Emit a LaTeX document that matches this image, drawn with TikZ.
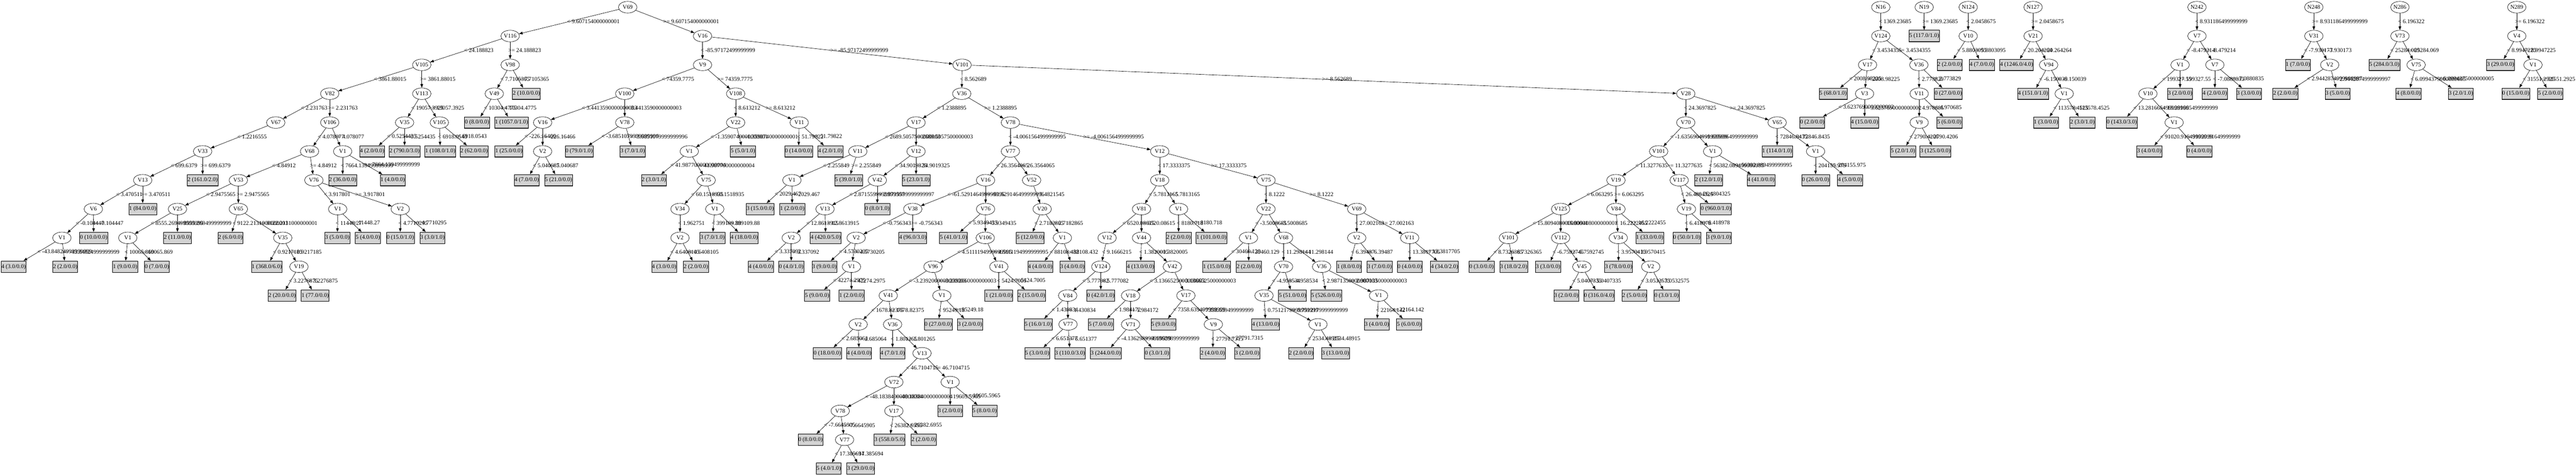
\documentclass[tikz,border=0pt]{standalone}
\usepackage{fontspec}
\setmainfont{Liberation Serif}
\usetikzlibrary{shapes.geometric, arrows.meta}
\definecolor{leafgray}{HTML}{D3D3D3}
\begin{document}
\begin{tikzpicture}[x=1pt, y=-87.2pt, font=\fontsize{17.5}{21}\selectfont,
  var/.style={draw, ellipse, line width=1pt, inner sep=0pt, minimum width=56pt, minimum height=35pt},
  leaf/.style={draw, rectangle, line width=1pt, fill=leafgray, inner xsep=1pt, inner ysep=0pt, minimum height=35pt,
    path picture={\draw[line width=3pt, black!70] (path picture bounding box.south west) -- (path picture bounding box.south east);}},
  edge/.style={line width=1pt, -{Triangle[length=11pt, width=8pt]}},
  lbl/.style={anchor=west, inner sep=0pt, xshift=-6pt}]
\useasboundingbox (0,-0.25) rectangle (7781,16.218);
\node[var] (v69) at (1896,0) {V69};
\node[var] (v116) at (1541,1) {V116};
\node[var] (v16) at (2122,1) {V16};
\node[var] (v105) at (1274,2) {V105};
\node[var] (v98) at (1541,2) {V98};
\node[var] (v9) at (2122,2) {V9};
\node[var] (v101) at (2906,2) {V101};
\node[var] (v82) at (996,3) {V82};
\node[var] (v113) at (1274,3) {V113};
\node[var] (v49) at (1493,3) {V49};
\node[var] (v100) at (1887,3) {V100};
\node[var] (v108) at (2222,3) {V108};
\node[var] (v36) at (2905,3) {V36};
\node[var] (v28) at (5092,3) {V28};
\node[var] (v67) at (833,4) {V67};
\node[var] (v106) at (996,4) {V106};
\node[var] (v35) at (1222,4) {V35};
\node[var] (v105b) at (1327,4) {V105};
\node[var] (v16b) at (1639,4) {V16};
\node[var] (v78) at (1887,4) {V78};
\node[var] (v22) at (2222,4) {V22};
\node[var] (v11) at (2414,4) {V11};
\node[var] (v17) at (2767,4) {V17};
\node[var] (v78b) at (3052,4) {V78};
\node[var] (v70) at (5092,4) {V70};
\node[var] (v65) at (5368,4) {V65};
\node[var] (v33) at (612,5) {V33};
\node[var] (v68) at (935,5) {V68};
\node[var] (v1b) at (1035,5) {V1};
\node[var] (v2b) at (1639,5) {V2};
\node[var] (v1e) at (2082,5) {V1};
\node[var] (v11b) at (2591,5) {V11};
\node[var] (v12) at (2767,5) {V12};
\node[var] (v77) at (3052,5) {V77};
\node[var] (v12b) at (3503,5) {V12};
\node[var] (v101b) at (5010,5) {V101};
\node[var] (v1p) at (5173,5) {V1};
\node[var] (v1q) at (5484,5) {V1};
\node[var] (v13) at (431,6) {V13};
\node[var] (v53) at (720,6) {V53};
\node[var] (v76) at (948,6) {V76};
\node[var] (v75) at (2133,6) {V75};
\node[var] (v1g) at (2392,6) {V1};
\node[var] (v42) at (2650,6) {V42};
\node[var] (v16c) at (2977,6) {V16};
\node[var] (v52) at (3116,6) {V52};
\node[var] (v18) at (3503,6) {V18};
\node[var] (v75b) at (3824,6) {V75};
\node[var] (v19b) at (4881,6) {V19};
\node[var] (v117) at (5072,6) {V117};
\node[var] (v6) at (282,7) {V6};
\node[var] (v25) at (536,7) {V25};
\node[var] (v65a) at (720,7) {V65};
\node[var] (v1d) at (1020,7) {V1};
\node[var] (v2a) at (1209,7) {V2};
\node[var] (v34) at (2054,7) {V34};
\node[var] (v1f) at (2159,7) {V1};
\node[var] (v13b) at (2492,7) {V13};
\node[var] (v38) at (2757,7) {V38};
\node[var] (v76b) at (2977,7) {V76};
\node[var] (v20) at (3148,7) {V20};
\node[var] (v81) at (3448,7) {V81};
\node[var] (v1l) at (3560,7) {V1};
\node[var] (v22b) at (3824,7) {V22};
\node[var] (v69b) at (4098,7) {V69};
\node[var] (v125) at (4714,7) {V125};
\node[var] (v84b) at (4881,7) {V84};
\node[var] (v19c) at (5094,7) {V19};
\node[var] (v1a) at (187,8) {V1};
\node[var] (v1c) at (386,8) {V1};
\node[var] (v35a) at (854,8) {V35};
\node[var] (v2c) at (2054,8) {V2};
\node[var] (v2d) at (2390,8) {V2};
\node[var] (v2e) at (2586,8) {V2};
\node[var] (v106b) at (2976,8) {V106};
\node[var] (v1k) at (3209,8) {V1};
\node[var] (v12c) at (3344,8) {V12};
\node[var] (v44) at (3448,8) {V44};
\node[var] (v1m) at (3771,8) {V1};
\node[var] (v68b) at (3877,8) {V68};
\node[var] (v2g) at (4098,8) {V2};
\node[var] (v11c) at (4258,8) {V11};
\node[var] (v101c) at (4556,8) {V101};
\node[var] (v112) at (4714,8) {V112};
\node[var] (v34b) at (4888,8) {V34};
\node[var] (v19a) at (903,9) {V19};
\node[var] (v1h) at (2572,9) {V1};
\node[var] (v96) at (2818,9) {V96};
\node[var] (v41a) at (3017,9) {V41};
\node[var] (v124a) at (3325,9) {V124};
\node[var] (v42b) at (3541,9) {V42};
\node[var] (v70a) at (3877,9) {V70};
\node[var] (v36c) at (3992,9) {V36};
\node[var] (v45) at (4778,9) {V45};
\node[var] (v2h) at (4986,9) {V2};
\node[var] (v41b) at (2683,10) {V41};
\node[var] (v1i) at (2845,10) {V1};
\node[var] (v84a) at (3225,10) {V84};
\node[var] (v18b) at (3415,10) {V18};
\node[var] (v17c) at (3582,10) {V17};
\node[var] (v35c) at (3818,10) {V35};
\node[var] (v1o) at (4164,10) {V1};
\node[var] (v2f) at (2592,11) {V2};
\node[var] (v36b) at (2696,11) {V36};
\node[var] (v77c) at (3226,11) {V77};
\node[var] (v71) at (3415,11) {V71};
\node[var] (v9b) at (3665,11) {V9};
\node[var] (v1n) at (3981,11) {V1};
\node[var] (v13c) at (2785,12) {V13};
\node[var] (v72) at (2700,13) {V72};
\node[var] (v1j) at (2870,13) {V1};
\node[var] (v78c) at (2538,14) {V78};
\node[var] (v17b) at (2700,14) {V17};
\node[var] (v77b) at (2551,15) {V77};
\node[var] (n16) at (5681,0) {N16};
\node[var] (n19) at (5812,0) {N19};
\node[var] (n124) at (5945,0) {N124};
\node[var] (n127) at (6141,0) {N127};
\node[var] (n242) at (6636,0) {N242};
\node[var] (n248) at (6989,0) {N248};
\node[var] (n286) at (7249,0) {N286};
\node[var] (n289) at (7602,0) {N289};
\node[var] (v124s) at (5681,1) {V124};
\node[var] (v10s) at (5945,1) {V10};
\node[var] (v21s) at (6141,1) {V21};
\node[var] (v7s) at (6636,1) {V7};
\node[var] (v31s) at (6989,1) {V31};
\node[var] (v73s) at (7249,1) {V73};
\node[var] (v4s) at (7602,1) {V4};
\node[var] (v17s) at (5641,2) {V17};
\node[var] (v36s) at (5796,2) {V36};
\node[var] (v94s) at (6188,2) {V94};
\node[var] (v1s) at (6585,2) {V1};
\node[var] (v7t) at (6690,2) {V7};
\node[var] (v2s) at (7037,2) {V2};
\node[var] (v75s) at (7298,2) {V75};
\node[var] (v1t) at (7651,2) {V1};
\node[var] (v3s) at (5632,3) {V3};
\node[var] (v11s) at (5797,3) {V11};
\node[var] (v1u) at (6235,3) {V1};
\node[var] (v10t) at (6488,3) {V10};
\node[var] (v9s) at (5797,4) {V9};
\node[var] (v1v) at (6567,4) {V1};
\node[leaf] (c1) at (612,6) {2 (161.0/2.0)};
\node[leaf] (c2) at (431,7) {1 (84.0/0.0)};
\node[leaf] (c3) at (283,8) {0 (10.0/0.0)};
\node[leaf] (c4) at (41,9) {4 (3.0/0.0)};
\node[leaf] (c5) at (197,9) {2 (2.0/0.0)};
\node[leaf] (c6) at (536,8) {2 (11.0/0.0)};
\node[leaf] (c7) at (378,9) {1 (9.0/0.0)};
\node[leaf] (c8) at (474,9) {0 (7.0/0.0)};
\node[leaf] (c9) at (696,8) {2 (6.0/0.0)};
\node[leaf] (c10) at (806,9) {1 (368.0/6.0)};
\node[leaf] (c11) at (852,10) {2 (20.0/0.0)};
\node[leaf] (c12) at (952,10) {1 (77.0/0.0)};
\node[leaf] (c13) at (1019,8) {3 (5.0/0.0)};
\node[leaf] (c14) at (1111,8) {5 (4.0/0.0)};
\node[leaf] (c15) at (1209,8) {0 (15.0/1.0)};
\node[leaf] (c16) at (1306,8) {3 (3.0/1.0)};
\node[leaf] (c17) at (1035,6) {2 (36.0/0.0)};
\node[leaf] (c18) at (1186,6) {1 (4.0/0.0)};
\node[leaf] (c19) at (1124,5) {4 (2.0/0.0)};
\node[leaf] (c20) at (1222,5) {2 (790.0/3.0)};
\node[leaf] (c21) at (1330,5) {1 (108.0/1.0)};
\node[leaf] (c22) at (1432,5) {2 (62.0/0.0)};
\node[leaf] (c23) at (1590,3) {2 (10.0/0.0)};
\node[leaf] (c24) at (1441,4) {0 (8.0/0.0)};
\node[leaf] (c25) at (1545,4) {1 (1057.0/1.0)};
\node[leaf] (c26) at (1537,5) {1 (25.0/0.0)};
\node[leaf] (c27) at (1591,6) {4 (7.0/0.0)};
\node[leaf] (c28) at (1687,6) {5 (21.0/0.0)};
\node[leaf] (c29) at (1749,5) {0 (79.0/1.0)};
\node[leaf] (c30) at (1911,5) {3 (7.0/1.0)};
\node[leaf] (c31) at (2244,5) {5 (5.0/1.0)};
\node[leaf] (c32) at (1975,6) {2 (3.0/1.0)};
\node[leaf] (c33) at (2006,9) {4 (3.0/0.0)};
\node[leaf] (c34) at (2102,9) {2 (2.0/0.0)};
\node[leaf] (c35) at (2152,8) {3 (7.0/1.0)};
\node[leaf] (c36) at (2248,8) {4 (18.0/0.0)};
\node[leaf] (c37) at (2412,5) {0 (14.0/0.0)};
\node[leaf] (c38) at (2508,5) {4 (2.0/1.0)};
\node[leaf] (c39) at (2563,6) {5 (39.0/1.0)};
\node[leaf] (c40) at (2296,7) {3 (15.0/0.0)};
\node[leaf] (c41) at (2393,7) {1 (2.0/0.0)};
\node[leaf] (c42) at (2767,6) {5 (23.0/1.0)};
\node[leaf] (c43) at (2650,7) {0 (8.0/1.0)};
\node[leaf] (c44) at (2494,8) {4 (420.0/5.0)};
\node[leaf] (c45) at (2298,9) {4 (4.0/0.0)};
\node[leaf] (c46) at (2390,9) {0 (4.0/1.0)};
\node[leaf] (c47) at (2757,8) {4 (96.0/3.0)};
\node[leaf] (c48) at (2490,9) {3 (9.0/0.0)};
\node[leaf] (c49) at (2468,10) {5 (9.0/0.0)};
\node[leaf] (c50) at (2572,10) {1 (2.0/0.0)};
\node[leaf] (c51) at (2880,8) {5 (41.0/1.0)};
\node[leaf] (c52) at (2499,12) {0 (18.0/0.0)};
\node[leaf] (c53) at (2595,12) {4 (4.0/0.0)};
\node[leaf] (c54) at (2696,12) {4 (7.0/1.0)};
\node[leaf] (c55) at (2448,15) {0 (8.0/0.0)};
\node[leaf] (c56) at (2503,16) {5 (4.0/1.0)};
\node[leaf] (c57) at (2600,16) {3 (29.0/0.0)};
\node[leaf] (c58) at (2687,15) {3 (558.0/5.0)};
\node[leaf] (c59) at (2790,15) {2 (2.0/0.0)};
\node[leaf] (c60) at (2870,14) {3 (2.0/0.0)};
\node[leaf] (c61) at (2974,14) {5 (8.0/0.0)};
\node[leaf] (c62) at (2834,11) {0 (27.0/0.0)};
\node[leaf] (c63) at (2930,11) {3 (2.0/0.0)};
\node[leaf] (c64) at (3017,10) {1 (21.0/0.0)};
\node[leaf] (c65) at (3116,10) {2 (15.0/0.0)};
\node[leaf] (c66) at (3112,8) {5 (12.0/0.0)};
\node[leaf] (c67) at (3142,9) {4 (4.0/0.0)};
\node[leaf] (c68) at (3239,9) {3 (4.0/0.0)};
\node[leaf] (c69) at (3325,10) {0 (42.0/1.0)};
\node[leaf] (c70) at (3136,11) {5 (16.0/1.0)};
\node[leaf] (c71) at (3133,12) {5 (3.0/0.0)};
\node[leaf] (c72) at (3232,12) {3 (110.0/3.0)};
\node[leaf] (c73) at (3445,9) {4 (13.0/0.0)};
\node[leaf] (c74) at (3325,11) {5 (7.0/0.0)};
\node[leaf] (c75) at (3340,12) {3 (244.0/0.0)};
\node[leaf] (c76) at (3495,12) {0 (3.0/1.0)};
\node[leaf] (c77) at (3514,11) {5 (9.0/0.0)};
\node[leaf] (c78) at (3663,12) {2 (4.0/0.0)};
\node[leaf] (c79) at (3767,12) {3 (2.0/0.0)};
\node[leaf] (c80) at (3560,8) {2 (2.0/0.0)};
\node[leaf] (c81) at (3659,8) {1 (101.0/0.0)};
\node[leaf] (c82) at (3675,9) {1 (15.0/0.0)};
\node[leaf] (c83) at (3772,9) {2 (2.0/0.0)};
\node[leaf] (c84) at (3904,10) {5 (51.0/0.0)};
\node[leaf] (c85) at (3823,11) {4 (13.0/0.0)};
\node[leaf] (c86) at (3930,12) {2 (2.0/0.0)};
\node[leaf] (c87) at (4034,12) {3 (13.0/0.0)};
\node[leaf] (c88) at (4006,10) {5 (526.0/0.0)};
\node[leaf] (c89) at (4159,11) {3 (4.0/0.0)};
\node[leaf] (c90) at (4256,11) {5 (6.0/0.0)};
\node[leaf] (c91) at (4075,9) {1 (8.0/0.0)};
\node[leaf] (c92) at (4167,9) {3 (7.0/0.0)};
\node[leaf] (c93) at (4258,9) {0 (4.0/0.0)};
\node[leaf] (c94) at (4363,9) {4 (34.0/2.0)};
\node[leaf] (c95) at (4475,9) {0 (3.0/0.0)};
\node[leaf] (c96) at (4572,9) {3 (18.0/2.0)};
\node[leaf] (c97) at (4676,9) {3 (3.0/0.0)};
\node[leaf] (c98) at (4731,10) {3 (2.0/0.0)};
\node[leaf] (c99) at (4830,10) {0 (316.0/4.0)};
\node[leaf] (c100) at (4983,8) {1 (33.0/0.0)};
\node[leaf] (c101) at (4889,9) {3 (78.0/0.0)};
\node[leaf] (c102) at (4937,10) {2 (5.0/0.0)};
\node[leaf] (c103) at (5034,10) {0 (3.0/1.0)};
\node[leaf] (c104) at (5183,7) {0 (960.0/1.0)};
\node[leaf] (c105) at (5095,8) {0 (50.0/1.0)};
\node[leaf] (c106) at (5192,8) {3 (9.0/1.0)};
\node[leaf] (c107) at (5161,6) {2 (12.0/1.0)};
\node[leaf] (c108) at (5319,6) {4 (41.0/0.0)};
\node[leaf] (c109) at (5368,5) {1 (114.0/1.0)};
\node[leaf] (c110) at (5484,6) {0 (26.0/0.0)};
\node[leaf] (c111) at (5588,6) {4 (5.0/0.0)};
\node[leaf] (c112) at (5812,1) {5 (117.0/1.0)};
\node[leaf] (c113) at (5537,3) {5 (68.0/1.0)};
\node[leaf] (c114) at (5474,4) {0 (2.0/0.0)};
\node[leaf] (c115) at (5632,4) {4 (15.0/0.0)};
\node[leaf] (c116) at (5885,3) {0 (27.0/0.0)};
\node[leaf] (c117) at (5888,4) {5 (6.0/0.0)};
\node[leaf] (c118) at (5748,5) {5 (2.0/1.0)};
\node[leaf] (c119) at (5846,5) {3 (125.0/0.0)};
\node[leaf] (c120) at (5889,2) {2 (2.0/0.0)};
\node[leaf] (c121) at (5986,2) {4 (7.0/0.0)};
\node[leaf] (c122) at (6091,2) {4 (1246.0/4.0)};
\node[leaf] (c123) at (6141,3) {4 (151.0/1.0)};
\node[leaf] (c124) at (6180,4) {1 (3.0/0.0)};
\node[leaf] (c125) at (6290,4) {2 (3.0/1.0)};
\node[leaf] (c126) at (6585,3) {3 (2.0/0.0)};
\node[leaf] (c127) at (6409,4) {0 (143.0/3.0)};
\node[leaf] (c128) at (6492,5) {3 (4.0/0.0)};
\node[leaf] (c129) at (6643,5) {0 (4.0/0.0)};
\node[leaf] (c130) at (6690,3) {4 (2.0/0.0)};
\node[leaf] (c131) at (6793,3) {3 (3.0/0.0)};
\node[leaf] (c132) at (6941,2) {1 (7.0/0.0)};
\node[leaf] (c133) at (6903,3) {2 (2.0/0.0)};
\node[leaf] (c134) at (7061,3) {3 (5.0/0.0)};
\node[leaf] (c135) at (7202,2) {5 (284.0/3.0)};
\node[leaf] (c136) at (7275,3) {4 (8.0/0.0)};
\node[leaf] (c137) at (7433,3) {3 (2.0/1.0)};
\node[leaf] (c138) at (7553,2) {3 (29.0/0.0)};
\node[leaf] (c139) at (7599,3) {0 (15.0/0.0)};
\node[leaf] (c140) at (7703,3) {5 (2.0/0.0)};
\draw[edge] (v69) -- node[lbl]{< 9.607154000000001} (v116);
\draw[edge] (v69) -- node[lbl]{>= 9.607154000000001} (v16);
\draw[edge] (v116) -- node[lbl]{< 24.188823} (v105);
\draw[edge] (v116) -- node[lbl]{>= 24.188823} (v98);
\draw[edge] (v105) -- node[lbl]{< 3861.88015} (v82);
\draw[edge] (v105) -- node[lbl]{>= 3861.88015} (v113);
\draw[edge] (v82) -- node[lbl]{< 2.231763} (v67);
\draw[edge] (v82) -- node[lbl]{>= 2.231763} (v106);
\draw[edge] (v67) -- node[lbl]{< 1.2216555} (v33);
\draw[edge] (v33) -- node[lbl]{< 699.6379} (v13);
\draw[edge] (v33) -- node[lbl]{>= 699.6379} (c1);
\draw[edge] (v13) -- node[lbl]{< 3.470511} (v6);
\draw[edge] (v13) -- node[lbl]{>= 3.470511} (c2);
\draw[edge] (v6) -- node[lbl]{< -0.104447} (v1a);
\draw[edge] (v6) -- node[lbl]{>= -0.104447} (c3);
\draw[edge] (v1a) -- node[lbl]{< -43.84824999999999} (c4);
\draw[edge] (v1a) -- node[lbl]{>= -43.84824999999999} (c5);
\draw[edge] (v106) -- node[lbl]{< 4.078077} (v68);
\draw[edge] (v106) -- node[lbl]{>= 4.078077} (v1b);
\draw[edge] (v68) -- node[lbl]{< 4.84912} (v53);
\draw[edge] (v68) -- node[lbl]{>= 4.84912} (v76);
\draw[edge] (v53) -- node[lbl]{< 2.9475565} (v25);
\draw[edge] (v53) -- node[lbl]{>= 2.9475565} (v65a);
\draw[edge] (v25) -- node[lbl]{< 8555.269499999999} (v1c);
\draw[edge] (v25) -- node[lbl]{>= 8555.269499999999} (c6);
\draw[edge] (v1c) -- node[lbl]{< 10065.869} (c7);
\draw[edge] (v1c) -- node[lbl]{>= 10065.869} (c8);
\draw[edge] (v65a) -- node[lbl]{< 9122.2131000000001} (c9);
\draw[edge] (v65a) -- node[lbl]{>= 9122.2131000000001} (v35a);
\draw[edge] (v35a) -- node[lbl]{< 0.9217185} (c10);
\draw[edge] (v35a) -- node[lbl]{>= 0.9217185} (v19a);
\draw[edge] (v19a) -- node[lbl]{< 3.2276875} (c11);
\draw[edge] (v19a) -- node[lbl]{>= 3.2276875} (c12);
\draw[edge] (v76) -- node[lbl]{< 3.917801} (v1d);
\draw[edge] (v76) -- node[lbl]{>= 3.917801} (v2a);
\draw[edge] (v1d) -- node[lbl]{< 11448.27} (c13);
\draw[edge] (v1d) -- node[lbl]{>= 11448.27} (c14);
\draw[edge] (v2a) -- node[lbl]{< 4.7710295} (c15);
\draw[edge] (v2a) -- node[lbl]{>= 4.7710295} (c16);
\draw[edge] (v1b) -- node[lbl]{< 7664.139499999999} (c17);
\draw[edge] (v1b) -- node[lbl]{>= 7664.139499999999} (c18);
\draw[edge] (v113) -- node[lbl]{< 19057.3925} (v35);
\draw[edge] (v113) -- node[lbl]{>= 19057.3925} (v105b);
\draw[edge] (v35) -- node[lbl]{< 0.5254435} (c19);
\draw[edge] (v35) -- node[lbl]{>= 0.5254435} (c20);
\draw[edge] (v105b) -- node[lbl]{< 6918.0543} (c21);
\draw[edge] (v105b) -- node[lbl]{>= 6918.0543} (c22);
\draw[edge] (v98) -- node[lbl]{< 7.7105365} (v49);
\draw[edge] (v98) -- node[lbl]{>= 7.7105365} (c23);
\draw[edge] (v49) -- node[lbl]{< 10304.4775} (c24);
\draw[edge] (v49) -- node[lbl]{>= 10304.4775} (c25);
\draw[edge] (v16) -- node[lbl]{< -85.97172499999999} (v9);
\draw[edge] (v16) -- node[lbl]{>= -85.97172499999999} (v101);
\draw[edge] (v9) -- node[lbl]{< 74359.7775} (v100);
\draw[edge] (v9) -- node[lbl]{>= 74359.7775} (v108);
\draw[edge] (v100) -- node[lbl]{< 3.4413590000000003} (v16b);
\draw[edge] (v100) -- node[lbl]{>= 3.4413590000000003} (v78);
\draw[edge] (v16b) -- node[lbl]{< -226.16466} (c26);
\draw[edge] (v16b) -- node[lbl]{>= -226.16466} (v2b);
\draw[edge] (v2b) -- node[lbl]{< 5.040687} (c27);
\draw[edge] (v2b) -- node[lbl]{>= 5.040687} (c28);
\draw[edge] (v78) -- node[lbl]{< -3.6851079999999996} (c29);
\draw[edge] (v78) -- node[lbl]{>= -3.6851079999999996} (c30);
\draw[edge] (v108) -- node[lbl]{< 8.613212} (v22);
\draw[edge] (v108) -- node[lbl]{>= 8.613212} (v11);
\draw[edge] (v22) -- node[lbl]{< -1.3590740000000001} (v1e);
\draw[edge] (v22) -- node[lbl]{>= -1.3590740000000001} (c31);
\draw[edge] (v1e) -- node[lbl]{< 41.987700000000004} (c32);
\draw[edge] (v1e) -- node[lbl]{>= 41.987700000000004} (v75);
\draw[edge] (v75) -- node[lbl]{< 60.1518935} (v34);
\draw[edge] (v75) -- node[lbl]{>= 60.1518935} (v1f);
\draw[edge] (v34) -- node[lbl]{< 1.962751} (v2c);
\draw[edge] (v2c) -- node[lbl]{< 4.6408105} (c33);
\draw[edge] (v2c) -- node[lbl]{>= 4.6408105} (c34);
\draw[edge] (v1f) -- node[lbl]{< 399109.88} (c35);
\draw[edge] (v1f) -- node[lbl]{>= 399109.88} (c36);
\draw[edge] (v11) -- node[lbl]{< 51.79822} (c37);
\draw[edge] (v11) -- node[lbl]{>= 51.79822} (c38);
\draw[edge] (v101) -- node[lbl]{< 8.562689} (v36);
\draw[edge] (v101) -- node[lbl]{>= 8.562689} (v28);
\draw[edge] (v36) -- node[lbl]{< 1.2388895} (v17);
\draw[edge] (v36) -- node[lbl]{>= 1.2388895} (v78b);
\draw[edge] (v17) -- node[lbl]{< 2689.5057500000003} (v11b);
\draw[edge] (v17) -- node[lbl]{>= 2689.5057500000003} (v12);
\draw[edge] (v11b) -- node[lbl]{< 2.255849} (v1g);
\draw[edge] (v11b) -- node[lbl]{>= 2.255849} (c39);
\draw[edge] (v1g) -- node[lbl]{< 2029.467} (c40);
\draw[edge] (v1g) -- node[lbl]{>= 2029.467} (c41);
\draw[edge] (v12) -- node[lbl]{< 34.9019325} (v42);
\draw[edge] (v12) -- node[lbl]{>= 34.9019325} (c42);
\draw[edge] (v42) -- node[lbl]{< 2.8715599999999997} (v13b);
\draw[edge] (v42) -- node[lbl]{>= 2.8715599999999997} (c43);
\draw[edge] (v13b) -- node[lbl]{< 12.8613915} (v2d);
\draw[edge] (v13b) -- node[lbl]{>= 12.8613915} (c44);
\draw[edge] (v2d) -- node[lbl]{< 3.337092} (c45);
\draw[edge] (v2d) -- node[lbl]{>= 3.337092} (c46);
\draw[edge] (v78b) -- node[lbl]{< -4.0061564999999995} (v77);
\draw[edge] (v78b) -- node[lbl]{>= -4.0061564999999995} (v12b);
\draw[edge] (v77) -- node[lbl]{< 26.3564065} (v16c);
\draw[edge] (v77) -- node[lbl]{>= 26.3564065} (v52);
\draw[edge] (v16c) -- node[lbl]{< -61.529146499999996} (v38);
\draw[edge] (v16c) -- node[lbl]{>= -61.529146499999996} (v76b);
\draw[edge] (v38) -- node[lbl]{< -0.756343} (v2e);
\draw[edge] (v38) -- node[lbl]{>= -0.756343} (c47);
\draw[edge] (v2e) -- node[lbl]{< 4.5730205} (c48);
\draw[edge] (v2e) -- node[lbl]{>= 4.5730205} (v1h);
\draw[edge] (v1h) -- node[lbl]{< 42274.2975} (c49);
\draw[edge] (v1h) -- node[lbl]{>= 42274.2975} (c50);
\draw[edge] (v76b) -- node[lbl]{< 5.9349435} (c51);
\draw[edge] (v76b) -- node[lbl]{>= 5.9349435} (v106b);
\draw[edge] (v106b) -- node[lbl]{< 4.5111194999999995} (v96);
\draw[edge] (v106b) -- node[lbl]{>= 4.5111194999999995} (v41a);
\draw[edge] (v96) -- node[lbl]{< -3.2392060000000003} (v41b);
\draw[edge] (v96) -- node[lbl]{>= -3.2392060000000003} (v1i);
\draw[edge] (v41b) -- node[lbl]{< 1678.82375} (v2f);
\draw[edge] (v41b) -- node[lbl]{>= 1678.82375} (v36b);
\draw[edge] (v2f) -- node[lbl]{< 2.685064} (c52);
\draw[edge] (v2f) -- node[lbl]{>= 2.685064} (c53);
\draw[edge] (v36b) -- node[lbl]{< 1.801265} (c54);
\draw[edge] (v36b) -- node[lbl]{>= 1.801265} (v13c);
\draw[edge] (v13c) -- node[lbl]{< 46.7104715} (v72);
\draw[edge] (v13c) -- node[lbl]{>= 46.7104715} (v1j);
\draw[edge] (v72) -- node[lbl]{< -48.183840000000004} (v78c);
\draw[edge] (v72) -- node[lbl]{>= -48.183840000000004} (v17b);
\draw[edge] (v78c) -- node[lbl]{< -7.6645905} (c55);
\draw[edge] (v78c) -- node[lbl]{>= -7.6645905} (v77b);
\draw[edge] (v77b) -- node[lbl]{< 17.385694} (c56);
\draw[edge] (v77b) -- node[lbl]{>= 17.385694} (c57);
\draw[edge] (v17b) -- node[lbl]{< 26382.6955} (c58);
\draw[edge] (v17b) -- node[lbl]{>= 26382.6955} (c59);
\draw[edge] (v1j) -- node[lbl]{< 19605.5965} (c60);
\draw[edge] (v1j) -- node[lbl]{>= 19605.5965} (c61);
\draw[edge] (v1i) -- node[lbl]{< 95249.18} (c62);
\draw[edge] (v1i) -- node[lbl]{>= 95249.18} (c63);
\draw[edge] (v41a) -- node[lbl]{< 5424.7005} (c64);
\draw[edge] (v41a) -- node[lbl]{>= 5424.7005} (c65);
\draw[edge] (v52) -- node[lbl]{< 5.4821545} (v20);
\draw[edge] (v20) -- node[lbl]{< 2.7182865} (c66);
\draw[edge] (v20) -- node[lbl]{>= 2.7182865} (v1k);
\draw[edge] (v1k) -- node[lbl]{< 88108.432} (c67);
\draw[edge] (v1k) -- node[lbl]{>= 88108.432} (c68);
\draw[edge] (v12b) -- node[lbl]{< 17.3333375} (v18);
\draw[edge] (v12b) -- node[lbl]{>= 17.3333375} (v75b);
\draw[edge] (v18) -- node[lbl]{< 5.7813165} (v81);
\draw[edge] (v18) -- node[lbl]{>= 5.7813165} (v1l);
\draw[edge] (v81) -- node[lbl]{< 6520.08615} (v12c);
\draw[edge] (v81) -- node[lbl]{>= 6520.08615} (v44);
\draw[edge] (v12c) -- node[lbl]{< 9.1666215} (v124a);
\draw[edge] (v124a) -- node[lbl]{< 5.777082} (v84a);
\draw[edge] (v124a) -- node[lbl]{>= 5.777082} (c69);
\draw[edge] (v84a) -- node[lbl]{< 1.430834} (c70);
\draw[edge] (v84a) -- node[lbl]{>= 1.430834} (v77c);
\draw[edge] (v77c) -- node[lbl]{< 6.651377} (c71);
\draw[edge] (v77c) -- node[lbl]{>= 6.651377} (c72);
\draw[edge] (v44) -- node[lbl]{< 1.3820005} (c73);
\draw[edge] (v44) -- node[lbl]{>= 1.3820005} (v42b);
\draw[edge] (v42b) -- node[lbl]{< 3.1366525000000003} (v18b);
\draw[edge] (v42b) -- node[lbl]{>= 3.1366525000000003} (v17c);
\draw[edge] (v18b) -- node[lbl]{< 1.984172} (c74);
\draw[edge] (v18b) -- node[lbl]{>= 1.984172} (v71);
\draw[edge] (v71) -- node[lbl]{< -4.136298999999999} (c75);
\draw[edge] (v71) -- node[lbl]{>= -4.136298999999999} (c76);
\draw[edge] (v17c) -- node[lbl]{< 7358.639499999999} (c77);
\draw[edge] (v17c) -- node[lbl]{>= 7358.639499999999} (v9b);
\draw[edge] (v9b) -- node[lbl]{< 27791.7315} (c78);
\draw[edge] (v9b) -- node[lbl]{>= 27791.7315} (c79);
\draw[edge] (v1l) -- node[lbl]{< 8180.718} (c80);
\draw[edge] (v1l) -- node[lbl]{>= 8180.718} (c81);
\draw[edge] (v75b) -- node[lbl]{< 8.1222} (v22b);
\draw[edge] (v75b) -- node[lbl]{>= 8.1222} (v69b);
\draw[edge] (v22b) -- node[lbl]{< -3.5008685} (v1m);
\draw[edge] (v22b) -- node[lbl]{>= -3.5008685} (v68b);
\draw[edge] (v1m) -- node[lbl]{< 30460.129} (c82);
\draw[edge] (v1m) -- node[lbl]{>= 30460.129} (c83);
\draw[edge] (v68b) -- node[lbl]{< 11.298144} (v70a);
\draw[edge] (v68b) -- node[lbl]{>= 11.298144} (v36c);
\draw[edge] (v70a) -- node[lbl]{< -4.958534} (v35c);
\draw[edge] (v70a) -- node[lbl]{>= -4.958534} (c84);
\draw[edge] (v35c) -- node[lbl]{< 0.7512179999999999} (c85);
\draw[edge] (v35c) -- node[lbl]{>= 0.7512179999999999} (v1n);
\draw[edge] (v1n) -- node[lbl]{< 2534.48915} (c86);
\draw[edge] (v1n) -- node[lbl]{>= 2534.48915} (c87);
\draw[edge] (v36c) -- node[lbl]{< 2.9871350000000003} (c88);
\draw[edge] (v36c) -- node[lbl]{>= 2.9871350000000003} (v1o);
\draw[edge] (v1o) -- node[lbl]{< 22164.142} (c89);
\draw[edge] (v1o) -- node[lbl]{>= 22164.142} (c90);
\draw[edge] (v69b) -- node[lbl]{< 27.002163} (v2g);
\draw[edge] (v69b) -- node[lbl]{>= 27.002163} (v11c);
\draw[edge] (v2g) -- node[lbl]{< 6.39487} (c91);
\draw[edge] (v2g) -- node[lbl]{>= 6.39487} (c92);
\draw[edge] (v11c) -- node[lbl]{< 13.3817705} (c93);
\draw[edge] (v11c) -- node[lbl]{>= 13.3817705} (c94);
\draw[edge] (v28) -- node[lbl]{< 24.3697825} (v70);
\draw[edge] (v28) -- node[lbl]{>= 24.3697825} (v65);
\draw[edge] (v70) -- node[lbl]{< -1.6356964999999999} (v101b);
\draw[edge] (v70) -- node[lbl]{>= -1.6356964999999999} (v1p);
\draw[edge] (v101b) -- node[lbl]{< 11.3277635} (v19b);
\draw[edge] (v101b) -- node[lbl]{>= 11.3277635} (v117);
\draw[edge] (v19b) -- node[lbl]{< 6.063295} (v125);
\draw[edge] (v19b) -- node[lbl]{>= 6.063295} (v84b);
\draw[edge] (v125) -- node[lbl]{< 15.809408000000001} (v101c);
\draw[edge] (v125) -- node[lbl]{>= 15.809408000000001} (v112);
\draw[edge] (v101c) -- node[lbl]{< 8.7326365} (c95);
\draw[edge] (v101c) -- node[lbl]{>= 8.7326365} (c96);
\draw[edge] (v112) -- node[lbl]{< -6.7592745} (c97);
\draw[edge] (v112) -- node[lbl]{>= -6.7592745} (v45);
\draw[edge] (v45) -- node[lbl]{< 5.0407335} (c98);
\draw[edge] (v45) -- node[lbl]{>= 5.0407335} (c99);
\draw[edge] (v84b) -- node[lbl]{< 16.2222455} (v34b);
\draw[edge] (v84b) -- node[lbl]{>= 16.2222455} (c100);
\draw[edge] (v34b) -- node[lbl]{< 3.9570415} (c101);
\draw[edge] (v34b) -- node[lbl]{>= 3.9570415} (v2h);
\draw[edge] (v2h) -- node[lbl]{< 3.0532575} (c102);
\draw[edge] (v2h) -- node[lbl]{>= 3.0532575} (c103);
\draw[edge] (v117) -- node[lbl]{< 26.4804325} (v19c);
\draw[edge] (v117) -- node[lbl]{>= 26.4804325} (c104);
\draw[edge] (v19c) -- node[lbl]{< 6.418978} (c105);
\draw[edge] (v19c) -- node[lbl]{>= 6.418978} (c106);
\draw[edge] (v1p) -- node[lbl]{< 56382.089499999995} (c107);
\draw[edge] (v1p) -- node[lbl]{>= 56382.089499999995} (c108);
\draw[edge] (v65) -- node[lbl]{< 72846.8435} (c109);
\draw[edge] (v65) -- node[lbl]{>= 72846.8435} (v1q);
\draw[edge] (v1q) -- node[lbl]{< 204155.975} (c110);
\draw[edge] (v1q) -- node[lbl]{>= 204155.975} (c111);
\draw[edge] (n16) -- node[lbl]{< 1369.23685} (v124s);
\draw[edge] (n19) -- node[lbl]{>= 1369.23685} (c112);
\draw[edge] (n124) -- node[lbl]{< 2.0458675} (v10s);
\draw[edge] (n127) -- node[lbl]{>= 2.0458675} (v21s);
\draw[edge] (v124s) -- node[lbl]{< 3.4534355} (v17s);
\draw[edge] (v124s) -- node[lbl]{>= 3.4534355} (v36s);
\draw[edge] (v17s) -- node[lbl]{< 2008.98225} (c113);
\draw[edge] (v17s) -- node[lbl]{>= 2008.98225} (v3s);
\draw[edge] (v3s) -- node[lbl]{< 3.6237690000000002} (c114);
\draw[edge] (v3s) -- node[lbl]{>= 3.6237690000000002} (c115);
\draw[edge] (v36s) -- node[lbl]{< 2.773829} (v11s);
\draw[edge] (v36s) -- node[lbl]{>= 2.773829} (c116);
\draw[edge] (v11s) -- node[lbl]{< 4.970685} (v9s);
\draw[edge] (v11s) -- node[lbl]{>= 4.970685} (c117);
\draw[edge] (v9s) -- node[lbl]{< 2790.4206} (c118);
\draw[edge] (v9s) -- node[lbl]{>= 2790.4206} (c119);
\draw[edge] (v10s) -- node[lbl]{< 5.8803095} (c120);
\draw[edge] (v10s) -- node[lbl]{>= 5.8803095} (c121);
\draw[edge] (v21s) -- node[lbl]{< 20.264264} (c122);
\draw[edge] (v21s) -- node[lbl]{>= 20.264264} (v94s);
\draw[edge] (v94s) -- node[lbl]{< -6.150039} (c123);
\draw[edge] (v94s) -- node[lbl]{>= -6.150039} (v1u);
\draw[edge] (v1u) -- node[lbl]{< 113578.4525} (c124);
\draw[edge] (v1u) -- node[lbl]{>= 113578.4525} (c125);
\draw[edge] (n242) -- node[lbl]{< 8.931186499999999} (v7s);
\draw[edge] (n248) -- node[lbl]{>= 8.931186499999999} (v31s);
\draw[edge] (v7s) -- node[lbl]{< -8.479214} (v1s);
\draw[edge] (v7s) -- node[lbl]{>= -8.479214} (v7t);
\draw[edge] (v1s) -- node[lbl]{< 199327.55} (v10t);
\draw[edge] (v1s) -- node[lbl]{>= 199327.55} (c126);
\draw[edge] (v10t) -- node[lbl]{< 13.281665499999999} (c127);
\draw[edge] (v10t) -- node[lbl]{>= 13.281665499999999} (v1v);
\draw[edge] (v1v) -- node[lbl]{< 91020.91649999999} (c128);
\draw[edge] (v1v) -- node[lbl]{>= 91020.91649999999} (c129);
\draw[edge] (v7t) -- node[lbl]{< -7.0880835} (c130);
\draw[edge] (v7t) -- node[lbl]{>= -7.0880835} (c131);
\draw[edge] (v31s) -- node[lbl]{< -7.930173} (c132);
\draw[edge] (v31s) -- node[lbl]{>= -7.930173} (v2s);
\draw[edge] (v2s) -- node[lbl]{< 2.9442874999999997} (c133);
\draw[edge] (v2s) -- node[lbl]{>= 2.9442874999999997} (c134);
\draw[edge] (n286) -- node[lbl]{< 6.196322} (v73s);
\draw[edge] (n289) -- node[lbl]{>= 6.196322} (v4s);
\draw[edge] (v73s) -- node[lbl]{< 25284.069} (c135);
\draw[edge] (v73s) -- node[lbl]{>= 25284.069} (v75s);
\draw[edge] (v75s) -- node[lbl]{< 6.0994375000000005} (c136);
\draw[edge] (v75s) -- node[lbl]{>= 6.0994375000000005} (c137);
\draw[edge] (v4s) -- node[lbl]{< 8.9947225} (c138);
\draw[edge] (v4s) -- node[lbl]{>= 8.9947225} (v1t);
\draw[edge] (v1t) -- node[lbl]{< 31551.2925} (c139);
\draw[edge] (v1t) -- node[lbl]{>= 31551.2925} (c140);
\end{tikzpicture}
\end{document}
